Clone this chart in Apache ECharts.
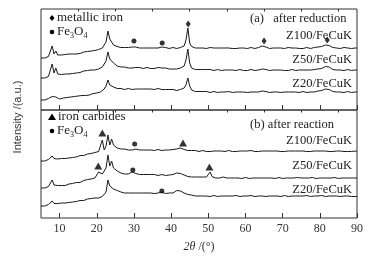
<!DOCTYPE html>
<html>
<head>
<meta charset="utf-8">
<script src="https://cdn.jsdelivr.net/npm/echarts@6/dist/echarts.min.js"></script>
<style>
  html, body { margin: 0; padding: 0; background: #fff; }
  #main { width: 377px; height: 258px; }
</style>
</head>
<body>
<div id="main"></div>
<script>
// 2theta sampling, 5..90 step 0.5
var twoTheta = [];
for (var k = 0; k <= 170; k++) { twoTheta.push(5 + k * 0.5); }

var tickMajor = [10, 20, 30, 40, 50, 60, 70, 80, 90];
var tickMinor = [15, 25, 35, 45, 55, 65, 75, 85];

// (a) after reduction, stacked intensity (a.u.)
var redZ100 = [
  52, 52.5, 52, 53, 53.5, 53, 64, 56, 59, 55,
  54.5, 55, 54.5, 55.5, 55, 56, 55.5, 56, 56.5, 56,
  57, 56.5, 57.5, 58, 57, 58.5, 58, 59, 58.5, 59.5,
  60, 60.5, 61, 62, 63, 68, 79, 71, 68, 65,
  64, 63.5, 63, 62.5, 63, 62.5, 62, 62.5, 62, 63,
  64.5, 63, 62.5, 62, 62.5, 62, 62.5, 62, 61.5, 62,
  62.5, 62, 63, 62, 62.5, 63, 62, 62.5, 62, 61.5,
  62, 62.5, 62, 61.5, 62, 62.5, 63, 64, 70, 82,
  67, 63.5, 62.5, 62, 62.5, 62, 61.5, 62, 62, 61.5,
  62, 62.5, 61.5, 62, 61.5, 62, 62.5, 62, 61.5, 62,
  61.5, 62, 62.5, 61.5, 62, 61.5, 62, 62, 61.5, 62,
  62, 61.5, 62, 62.5, 62, 61.5, 62, 62.5, 63, 64,
  65, 63, 62, 61.5, 62, 62, 61.5, 62, 61.5, 62,
  62, 61.5, 62, 62.5, 61.5, 62, 61.5, 62, 62, 61.5,
  62, 61.5, 62, 62.5, 62, 61.5, 62, 62.5, 62.5, 63,
  63, 63.5, 64, 65, 66, 64.5, 63, 62.5, 62, 62,
  62, 61.5, 62, 62.5, 61.5, 62, 62, 61.5, 62, 62,
  62
];
var redZ50 = [
  32, 32.5, 32, 33, 33.5, 34, 46, 37, 42, 36,
  35, 35.5, 35, 36, 36.5, 36, 37, 36.5, 37.5, 37,
  38, 37.5, 38.5, 39, 38, 39.5, 38.5, 40, 39.5, 40,
  40.5, 41, 42, 43, 45, 49, 58, 51, 53, 47,
  45, 44, 43.5, 43, 42.5, 43, 42.5, 42, 42.5, 42,
  43.5, 42.5, 42, 42.5, 42, 41.5, 42, 42.5, 42, 41.5,
  42, 41.5, 42, 42.5, 41.5, 42, 41.5, 42, 41.5, 41,
  41.5, 41, 41.5, 41, 41.5, 42, 42.5, 44, 50, 61,
  47, 42, 41, 40.5, 41, 40.5, 40, 40.5, 41, 40.5,
  40, 40.5, 40, 39.5, 40, 40.5, 40, 39.5, 40, 40,
  40.5, 40, 39.5, 40, 40, 39.5, 40, 40.5, 40, 39.5,
  40, 39.5, 40, 40.5, 40, 39.5, 40, 40, 40.5, 41,
  41.5, 40.5, 40, 39.5, 40, 40, 39.5, 40, 40.5, 40,
  40, 39.5, 40, 39.5, 40, 40.5, 40, 39.5, 40, 40,
  39.5, 40, 40.5, 40, 39.5, 40, 40, 40.5, 40.5, 41,
  41, 41.5, 42, 43.5, 45, 43, 41.5, 40.5, 40, 40,
  39.5, 40, 40, 39.5, 40, 40.5, 40, 39.5, 40, 40,
  40
];
var redZ20 = [
  10, 10.5, 10, 11, 11.5, 11, 13.5, 12, 13, 11.5,
  11, 11.5, 12, 11.5, 12.5, 12, 13, 12.5, 13.5, 13,
  14, 13.5, 14.5, 15, 14.5, 15.5, 15, 16, 16.5, 16,
  17, 17.5, 18, 19, 21, 24, 30, 25, 24, 23,
  22, 21.5, 21, 21.5, 21, 20.5, 21, 21.5, 21, 20.5,
  22, 21, 21.5, 21, 20.5, 21, 21.5, 21, 20.5, 21,
  21, 20.5, 21, 21.5, 21, 20.5, 21, 20.5, 20, 20.5,
  20, 20.5, 20, 19.5, 20, 20.5, 21, 22, 25, 32,
  24, 20, 19, 18.5, 19, 18.5, 18, 18.5, 18, 18.5,
  18, 17.5, 18, 18.5, 18, 17.5, 18, 18, 17.5, 18,
  18, 18.5, 18, 17.5, 18, 18, 17.5, 18, 18.5, 18,
  18, 17.5, 18, 18, 18.5, 18, 17.5, 18, 18.5, 19,
  19.5, 18.5, 18, 17.5, 18, 18, 17.5, 18, 18, 17.5,
  18, 18, 17.5, 18, 18.5, 18, 17.5, 18, 18, 17.5,
  18, 18.5, 18, 17.5, 18, 18, 18.5, 18, 18.5, 19,
  19, 19.5, 20, 21, 22, 20.5, 19.5, 18.5, 18, 18,
  17.5, 18, 18, 17.5, 18, 18.5, 18, 17.5, 18, 18,
  18
];

// (b) after reaction
var reaZ100 = [
  57, 57.5, 57, 58, 58.5, 58, 62, 59.5, 61, 59,
  59, 59.5, 60, 59.5, 60.5, 60, 61, 60.5, 61.5, 61,
  62, 62.5, 63, 62.5, 63.5, 64, 63.5, 64.5, 65, 65.5,
  66, 66.5, 67, 78, 68, 72, 83, 73, 79, 73,
  71, 70, 69.5, 69, 68.5, 69, 68.5, 68, 68.5, 68,
  70, 69, 68.5, 68, 68.5, 68, 67.5, 68, 68.5, 68,
  68, 67.5, 68, 68.5, 68, 67.5, 68, 68, 67.5, 68,
  68, 68.5, 68, 69, 70.5, 70, 69, 68.5, 68, 67.5,
  68, 67.5, 67, 67.5, 67, 66.5, 67, 67.5, 67, 66.5,
  67, 66.5, 67, 67, 66.5, 67, 66.5, 67, 67, 66.5,
  67, 67.5, 67, 66.5, 67, 66.5, 67, 67, 66.5, 67,
  66.5, 67, 67, 67.5, 67, 66.5, 67, 66.5, 67, 67,
  66.5, 67, 66.5, 67, 67.5, 67, 66.5, 67, 67, 66.5,
  67, 66.5, 67, 67, 66.5, 67, 67.5, 67, 66.5, 67,
  66.5, 67, 67, 66.5, 67, 66.5, 67, 67, 67.5, 67,
  66.5, 67, 66.5, 67, 67, 66.5, 67, 66.5, 67, 67,
  66.5, 67, 66.5, 66.5, 67, 66.5, 67, 66.5, 66.5, 67,
  66.5
];
var reaZ50 = [
  30, 30.5, 30, 31, 31.5, 31, 38, 33, 35, 32.5,
  32, 32.5, 33, 32.5, 33.5, 34, 33.5, 34.5, 35, 35.5,
  36, 35.5, 37, 37.5, 37, 38.5, 38, 39, 39.5, 40,
  41, 46, 44, 44, 46, 50, 63, 52, 57, 50,
  48, 47, 46, 45, 44.5, 44, 44.5, 44, 45, 46,
  46.5, 44.5, 44, 43.5, 44, 43.5, 43, 43.5, 43, 43.5,
  43, 43.5, 43, 42.5, 43, 43.5, 43, 42.5, 43, 43,
  43, 43.5, 44, 45, 45.5, 44.5, 44, 43, 42, 41.5,
  41.5, 41, 41.5, 41, 40.5, 41, 41.5, 41, 40.5, 41,
  42, 46, 41.5, 40.5, 40, 40.5, 40, 40.5, 41, 40,
  40, 40.5, 40, 39.5, 40, 40.5, 40, 40, 39.5, 40,
  40.5, 40, 39.5, 40, 40, 40.5, 40, 39.5, 40, 40,
  40, 39.5, 40, 40.5, 40, 40, 39.5, 40, 40.5, 40,
  39.5, 40, 40, 40.5, 40, 39.5, 40, 40, 40.5, 40,
  40, 40.5, 40, 39.5, 40, 40, 40.5, 40, 39.5, 40,
  40, 39.5, 40, 40.5, 40, 39.5, 40, 40, 40.5, 40,
  39.5, 40, 40, 39.5, 40, 40.5, 40, 39.5, 40, 40,
  40
];
var reaZ20 = [
  12, 12.5, 12, 13, 13.5, 13, 17, 14.5, 16, 14.5,
  14.5, 15, 15.5, 15, 16, 15.5, 16.5, 16, 17, 16.5,
  17, 17.5, 18, 17.5, 18.5, 19, 18.5, 19.5, 19, 20,
  20.5, 20, 21, 21.5, 22, 26, 38, 32, 30, 29,
  28, 27.5, 27, 26, 25.5, 25, 25.5, 25, 24.5, 25,
  25.5, 25, 24.5, 25, 25.5, 25, 24.5, 25, 25.5, 25,
  25, 24.5, 25, 25, 25.5, 26, 25, 24.5, 25, 25,
  25.5, 25, 26, 27.5, 28, 27, 26, 25, 24, 23.5,
  23, 23, 22.5, 22, 22.5, 22, 21.5, 22, 22.5, 22,
  22, 21.5, 22, 22.5, 22, 21.5, 22, 22, 21.5, 22,
  22.5, 22, 21.5, 22, 22, 22.5, 22, 21.5, 22, 22,
  21.5, 22, 22, 22.5, 22, 21.5, 22, 22, 22.5, 22,
  22, 21.5, 22, 22, 22.5, 22, 21.5, 22, 22, 21.5,
  22, 22.5, 22, 21.5, 22, 22, 21.5, 22, 22.5, 22,
  21.5, 22, 22, 22.5, 22, 21.5, 22, 22, 21.5, 22,
  22, 22.5, 22, 21.5, 22, 22, 22.5, 22, 21.5, 22,
  22, 21.5, 22, 22, 21.5, 22, 22, 21.5, 22, 21.5,
  21.5
];

// peak markers [2theta, intensity]
var redIronMarks = [[44.6, 86], [65, 69], [82, 70]];
var redFe3O4Marks = [[30, 69], [37.6, 67]];
var reaCarbideMarks = [[21.5, 85], [43.2, 75], [20.4, 52], [50.3, 51]];
var reaFe3O4Marks = [[30.2, 74], [29.7, 48], [37.5, 27]];

var sampleNames = ['Z100/FeCuK', 'Z50/FeCuK', 'Z20/FeCuK'];

var serif = "'Liberation Serif', 'Times New Roman', serif";
var ink = '#1a1a1a';

function pairs(vals) {
  return vals.map(function (v, i) { return [twoTheta[i], v]; });
}

function traceSeries(vals, gi) {
  return {
    type: 'line', data: pairs(vals), xAxisIndex: gi * 2, yAxisIndex: gi,
    showSymbol: false, silent: true,
    lineStyle: { color: ink, width: 1 }
  };
}

function markSeries(pts, gi, symbol, size) {
  return {
    type: 'scatter', data: pts, xAxisIndex: gi * 2, yAxisIndex: gi,
    symbol: symbol, symbolSize: size, silent: true,
    itemStyle: { color: '#000' }
  };
}

function xAxisPart(gi, ticks, len, labels) {
  return {
    type: 'value', gridIndex: gi, min: 5, max: 90, interval: 5,
    axisLine: { show: false },
    splitLine: { show: false },
    axisTick: { inside: true, length: len, customValues: ticks,
      lineStyle: { color: '#333', width: 1 } },
    axisLabel: { show: labels, customValues: tickMajor, margin: 5,
      fontFamily: serif, fontSize: 12, color: '#333' }
  };
}

var subRich = { s: { fontFamily: serif, fontSize: 8, verticalAlign: 'bottom', lineHeight: 15 } };

function label(x, y, txt, align, size) {
  return {
    type: 'text', x: x, y: y, silent: true,
    style: { text: txt, fontFamily: serif, fontSize: size || 12.5, fill: '#222',
      align: align || 'left', verticalAlign: 'middle', lineHeight: 15, rich: subRich }
  };
}

var myChart = echarts.init(document.getElementById('main'), null, { renderer: 'canvas' });

var option = {
  animation: false,
  backgroundColor: '#fff',
  grid: [
    { left: 41, top: 9, width: 316, height: 101, show: true, borderColor: '#333', borderWidth: 1 },
    { left: 41, top: 110, width: 316, height: 108, show: true, borderColor: '#333', borderWidth: 1 }
  ],
  xAxis: [
    xAxisPart(0, tickMajor, 5, false),
    xAxisPart(0, tickMinor, 2.5, false),
    xAxisPart(1, tickMajor, 5, true),
    xAxisPart(1, tickMinor, 2.5, false)
  ],
  yAxis: [
    { type: 'value', gridIndex: 0, min: 0, max: 101, show: false },
    { type: 'value', gridIndex: 1, min: 0, max: 108, show: false }
  ],
  series: [
    traceSeries(redZ100, 0), traceSeries(redZ50, 0), traceSeries(redZ20, 0),
    traceSeries(reaZ100, 1), traceSeries(reaZ50, 1), traceSeries(reaZ20, 1),
    markSeries(redIronMarks, 0, 'diamond', [5, 7]),
    markSeries(redFe3O4Marks, 0, 'circle', 5),
    markSeries(reaCarbideMarks, 1, 'triangle', [8, 7]),
    markSeries(reaFe3O4Marks, 1, 'circle', 5)
  ],
  graphic: [
    // legend (a)
    { type: 'polygon', silent: true, shape: { points: [[52, 15], [54.5, 18], [52, 21], [49.5, 18]] }, style: { fill: '#000' } },
    label(57, 18, 'metallic iron', 'left', 13),
    { type: 'circle', silent: true, shape: { cx: 52, cy: 32, r: 2.3 }, style: { fill: '#000' } },
    label(57, 32, 'Fe{s|3}O{s|4}', 'left', 13),
    label(250, 19, '(a)   after reduction', 'left', 12.5),
    label(352, 36, sampleNames[0], 'right'),
    label(352, 60, sampleNames[1], 'right'),
    label(352, 84, sampleNames[2], 'right'),
    // legend (b)
    { type: 'polygon', silent: true, shape: { points: [[52, 113.5], [56, 120], [48, 120]] }, style: { fill: '#000' } },
    label(58, 117, 'iron carbides', 'left', 13),
    { type: 'circle', silent: true, shape: { cx: 52, cy: 131, r: 2.3 }, style: { fill: '#000' } },
    label(57, 131, 'Fe{s|3}O{s|4}', 'left', 13),
    label(250, 125, '(b) after reaction', 'left', 12.5),
    label(352, 141, sampleNames[0], 'right'),
    label(352, 166, sampleNames[1], 'right'),
    label(352, 190, sampleNames[2], 'right'),
    // axis names
    {
      type: 'text', x: 18, y: 117, rotation: Math.PI / 2, silent: true,
      style: { text: 'Intensity /(a.u.)', fontFamily: "'Liberation Sans', Arial, sans-serif",
        fontSize: 11, fill: '#333', align: 'center', verticalAlign: 'middle' }
    },
    {
      type: 'text', x: 199, y: 247, silent: true,
      style: { text: '{i|2θ} /(°)', fontFamily: serif, fontSize: 12, fill: '#333',
        align: 'center', verticalAlign: 'middle',
        rich: { i: { fontFamily: serif, fontSize: 12, fontStyle: 'italic', fill: '#333' } } }
    }
  ]
};

if (option)
  myChart.setOption(option);
</script>
</body>
</html>
